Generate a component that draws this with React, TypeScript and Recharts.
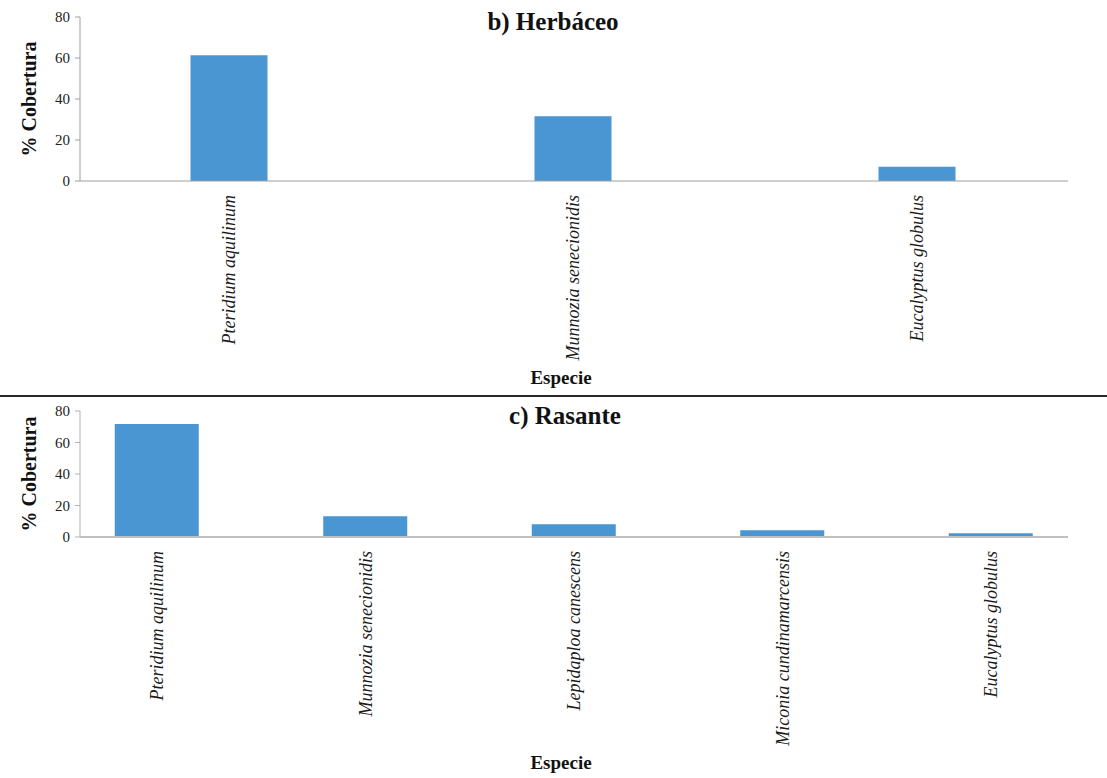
import React from 'react';
import { BarChart, Bar, XAxis, YAxis, Label } from 'recharts';

const herbCategories = ['Pteridium aquilinum', 'Munnozia senecionidis', 'Eucalyptus globulus'];
const herbValues = [61.4, 31.6, 7.0];

const rasCategories = [
  'Pteridium aquilinum',
  'Munnozia senecionidis',
  'Lepidaploa canescens',
  'Miconia cundinamarcensis',
  'Eucalyptus globulus',
];
const rasValues = [71.7, 13.2, 8.1, 4.3, 2.4];

const yTicks = [0, 20, 40, 60, 80];

const herbData = herbCategories.map((name, i) => ({ name, value: herbValues[i] }));
const rasData = rasCategories.map((name, i) => ({ name, value: rasValues[i] }));

const FONT = '"Liberation Serif", "DejaVu Serif", serif';
const BAR = '#4A96D2';

const XTick = (props: any) => {
  const { x, y, payload } = props;
  const ty = y + 14;
  return (
    <text
      x={x}
      y={ty}
      transform={`rotate(-90, ${x}, ${ty})`}
      textAnchor="end"
      dy="0.35em"
      fontStyle="italic"
      fontSize={18}
      fontFamily={FONT}
      fill="#1a1a1a"
    >
      {payload.value}
    </text>
  );
};

const YLabel = (props: any) => {
  const vb = props.viewBox || {};
  const cx = 29;
  const cy = vb.y + vb.height / 2;
  return (
    <text
      x={cx}
      y={cy}
      transform={`rotate(-90, ${cx}, ${cy})`}
      textAnchor="middle"
      dominantBaseline="central"
      fontWeight="bold"
      fontSize={20}
      fontFamily={FONT}
      fill="#111"
    >
      % Cobertura
    </text>
  );
};

const makeXLabel = (yPos: number) => (props: any) => (
  <text
    x={561}
    y={yPos}
    textAnchor="middle"
    dominantBaseline="central"
    fontWeight="bold"
    fontSize={19}
    fontFamily={FONT}
    fill="#111"
  >
    Especie
  </text>
);

const Title = ({ text, top, cx }: { text: string; top: number; cx: number }) => (
  <div
    style={{
      position: 'absolute',
      top,
      left: cx - 200,
      width: 400,
      textAlign: 'center',
      fontFamily: FONT,
      fontWeight: 'bold',
      fontSize: 25,
      lineHeight: '28px',
      color: '#111',
    }}
  >
    {text}
  </div>
);

export default function App() {
  return (
    <div style={{ position: 'absolute', left: 0, top: 0, width: 1107, height: 778, background: '#fff', overflow: 'hidden' }}>
      <div style={{ position: 'absolute', left: 0, top: 0 }}>
        <BarChart width={1107} height={390} data={herbData} margin={{ top: 17, right: 39, left: 0, bottom: 0 }}>
          <XAxis
            dataKey="name"
            interval={0}
            tickLine={false}
            tickSize={0}
            tickMargin={0}
            height={209}
            padding={{ left: -23.5, right: -20.5 }}
            axisLine={{ stroke: '#9e9e9e', strokeWidth: 1.2 }}
            tick={<XTick />}
          >
            <Label content={makeXLabel(377)} />
          </XAxis>
          <YAxis
            width={80}
            domain={[0, 80]}
            ticks={yTicks}
            interval={0}
            tickSize={5}
            tickMargin={5}
            axisLine={{ stroke: '#9e9e9e' }}
            tickLine={{ stroke: '#9e9e9e' }}
            tick={{ fontSize: 15, fontFamily: FONT, fill: '#222' }}
          >
            <Label content={<YLabel />} />
          </YAxis>
          <Bar dataKey="value" fill={BAR} barSize={77} isAnimationActive={false} />
        </BarChart>
      </div>
      <Title text="b) Herbáceo" top={8} cx={553} />

      <div style={{ position: 'absolute', left: 0, top: 395, width: 1107, height: 1.5, background: '#2a2a2a' }} />

      <div style={{ position: 'absolute', left: 0, top: 396 }}>
        <BarChart width={1107} height={382} data={rasData} margin={{ top: 15, right: 39, left: 0, bottom: 0 }}>
          <XAxis
            dataKey="name"
            interval={0}
            tickLine={false}
            tickSize={0}
            tickMargin={0}
            height={241}
            padding={{ left: -27.25, right: -27.25 }}
            axisLine={{ stroke: '#c0c0c0', strokeWidth: 2 }}
            tick={<XTick />}
          >
            <Label content={makeXLabel(366)} />
          </XAxis>
          <YAxis
            width={80}
            domain={[0, 80]}
            ticks={yTicks}
            interval={0}
            tickSize={5}
            tickMargin={5}
            axisLine={{ stroke: '#b0b0b0' }}
            tickLine={{ stroke: '#b0b0b0' }}
            tick={{ fontSize: 15, fontFamily: FONT, fill: '#222' }}
          >
            <Label content={<YLabel />} />
          </YAxis>
          <Bar dataKey="value" fill={BAR} barSize={84} isAnimationActive={false} />
        </BarChart>
      </div>
      <Title text="c) Rasante" top={402} cx={565} />
    </div>
  );
}
